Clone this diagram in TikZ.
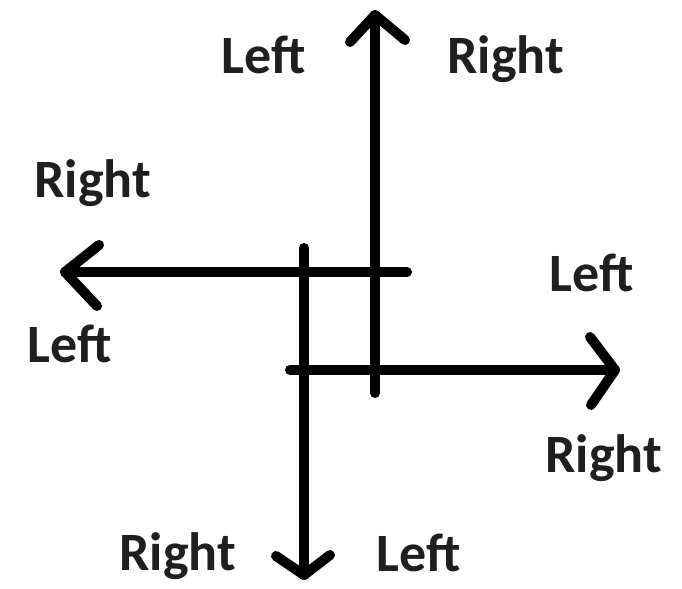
\documentclass[tikz,border=0pt]{standalone}
\usepackage{fontspec}
\setmainfont{Carlito}
\begin{document}
\begin{tikzpicture}[x=0.5pt,y=-0.5pt,
  stroke/.style={line width=5pt,line cap=round,line join=round},
  lbl/.style={inner sep=0pt,anchor=base west,font=\fontsize{27}{32}\selectfont\bfseries,text=black!88}]
\useasboundingbox (0,0) rectangle (682,589);
% arrow coordinates
\coordinate (upS) at (375,393);
\coordinate (upT) at (375,15);
\coordinate (upA) at (350,42);
\coordinate (upB) at (405,40);
\coordinate (lfS) at (407,272);
\coordinate (lfT) at (65,272);
\coordinate (lfA) at (99,245);
\coordinate (lfB) at (97,306);
\coordinate (rtS) at (290,370);
\coordinate (rtT) at (615,370);
\coordinate (rtA) at (590,337);
\coordinate (rtB) at (591,405);
\coordinate (dnS) at (304,248);
\coordinate (dnT) at (304,575);
\coordinate (dnA) at (276,556);
\coordinate (dnB) at (330,555);
% shafts
\draw[stroke] (upS) -- (upT);
\draw[stroke] (lfS) -- (lfT);
\draw[stroke] (rtS) -- (rtT);
\draw[stroke] (dnS) -- (dnT);
% heads
\draw[stroke] (upA) -- (upT) -- (upB);
\draw[stroke] (lfA) -- (lfT) -- (lfB);
\draw[stroke] (rtA) -- (rtT) -- (rtB);
\draw[stroke] (dnA) -- (dnT) -- (dnB);
% labels
\node[lbl] (l1) at (221,74) {Left};
\node[lbl] (r1) at (447,74) {Right};
\node[lbl] (r2) at (34,198) {Right};
\node[lbl] (l2) at (27,363) {Left};
\node[lbl] (l3) at (549,292) {Left};
\node[lbl] (r3) at (545,473) {Right};
\node[lbl] (r4) at (119,570) {Right};
\node[lbl] (l4) at (376,571) {Left};
\end{tikzpicture}
\end{document}
